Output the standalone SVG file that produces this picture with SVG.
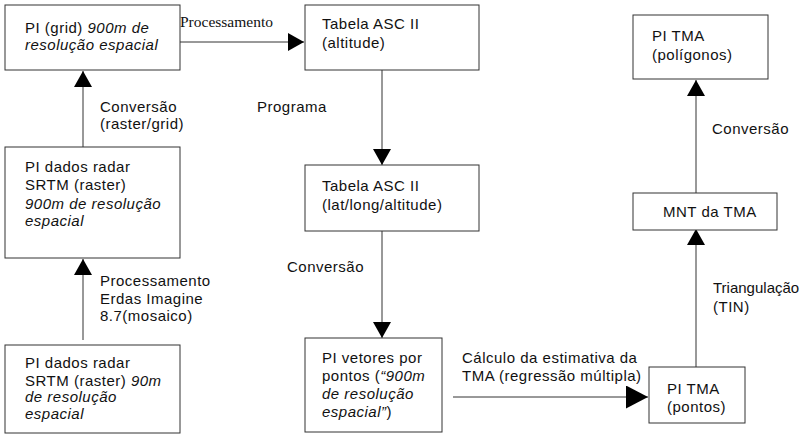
<svg xmlns="http://www.w3.org/2000/svg" width="802" height="435" viewBox="0 0 802 435">
<style>
.box{fill:#fff;stroke:#333;stroke-width:1}
text{font-family:"Liberation Sans",Arial,sans-serif;font-size:15px;letter-spacing:0.5px;fill:#111}
.it{font-style:italic}
.serif{font-family:"Liberation Serif","Times New Roman",serif;font-size:15.5px;letter-spacing:0}
.ln{stroke:#333;stroke-width:1;fill:none}
</style>
<defs>
<marker id="arr" markerUnits="userSpaceOnUse" markerWidth="16" markerHeight="18" refX="16" refY="9" orient="auto"><path d="M0,0 L16,9 L0,18 Z" fill="#000"/></marker>
<marker id="arrL" markerUnits="userSpaceOnUse" markerWidth="22" markerHeight="23" refX="22" refY="11.5" orient="auto"><path d="M0,0 L22,11.5 L0,23 Z" fill="#000"/></marker>
</defs>
<g id="connectors">
<line class="ln" x1="180" y1="42" x2="304" y2="42" marker-end="url(#arr)"/>
<line class="ln" x1="83" y1="147" x2="83" y2="71" marker-end="url(#arr)"/>
<line class="ln" x1="83" y1="340" x2="83" y2="259" marker-end="url(#arr)"/>
<line class="ln" x1="382" y1="70" x2="382" y2="165" marker-end="url(#arr)"/>
<line class="ln" x1="382" y1="231" x2="382" y2="338" marker-end="url(#arr)"/>
<line class="ln" x1="453" y1="397" x2="648" y2="397" marker-end="url(#arrL)"/>
<line class="ln" x1="696" y1="367" x2="696" y2="229" marker-end="url(#arr)"/>
<line class="ln" x1="696" y1="193" x2="696" y2="80" marker-end="url(#arr)"/>
<text class="serif" x="180" y="27">Processamento</text>
<text x="100" y="112">Conversão</text>
<text x="100" y="129">(raster/grid)</text>
<text x="257" y="112">Programa</text>
<text x="100" y="286">Processamento</text>
<text x="100" y="304">Erdas Imagine</text>
<text x="100" y="321">8.7(mosaico)</text>
<text x="287" y="272">Conversão</text>
<text x="462" y="363">Cálculo da estimativa da</text>
<text x="462" y="381">TMA (regressão múltipla)</text>
<text x="713" y="293" style="letter-spacing:0">Triangulação</text>
<text x="713" y="312">(TIN)</text>
<text x="712" y="134">Conversão</text>
</g>
<g id="pi-grid">
<rect class="box" x="5" y="5" width="175" height="65"/>
<text x="25" y="33">PI (grid) <tspan class="it">900m de</tspan></text>
<text x="25" y="50" class="it">resolução espacial</text>
</g>
<g id="pi-radar-900">
<rect class="box" x="5" y="147" width="175" height="111"/>
<text x="25" y="172">PI dados radar</text>
<text x="25" y="190">SRTM (raster)</text>
<text x="25" y="209" class="it">900m de resolução</text>
<text x="25" y="226" class="it">espacial</text>
</g>
<g id="pi-radar-90">
<rect class="box" x="5" y="345" width="175" height="88"/>
<text x="25" y="368">PI dados radar</text>
<text x="25" y="386">SRTM (raster) <tspan class="it">90m</tspan></text>
<text x="25" y="402" class="it">de resolução</text>
<text x="25" y="419" class="it">espacial</text>
</g>
<g id="tabela-altitude">
<rect class="box" x="305" y="5" width="174" height="65"/>
<text x="322" y="29">Tabela ASC II</text>
<text x="322" y="48">(altitude)</text>
</g>
<g id="tabela-latlong">
<rect class="box" x="305" y="165" width="174" height="66"/>
<text x="322" y="191">Tabela ASC II</text>
<text x="322" y="210">(lat/long/altitude)</text>
</g>
<g id="pi-vetores">
<rect class="box" x="305" y="338" width="137" height="94"/>
<text x="322" y="363">PI vetores por</text>
<text x="322" y="381">pontos (<tspan class="it">“900m</tspan></text>
<text x="322" y="399" class="it">de resolução</text>
<text x="322" y="417"><tspan class="it">espacial”</tspan>)</text>
</g>
<g id="pi-tma-pontos">
<rect class="box" x="649" y="367" width="96" height="56"/>
<text x="667" y="394">PI TMA</text>
<text x="667" y="412">(pontos)</text>
</g>
<g id="mnt-tma">
<rect class="box" x="633" y="193" width="144" height="37"/>
<text x="663" y="217">MNT da TMA</text>
</g>
<g id="pi-tma-poligonos">
<rect class="box" x="633" y="15" width="135" height="64"/>
<text x="652" y="41">PI TMA</text>
<text x="652" y="60">(polígonos)</text>
</g>
</svg>
